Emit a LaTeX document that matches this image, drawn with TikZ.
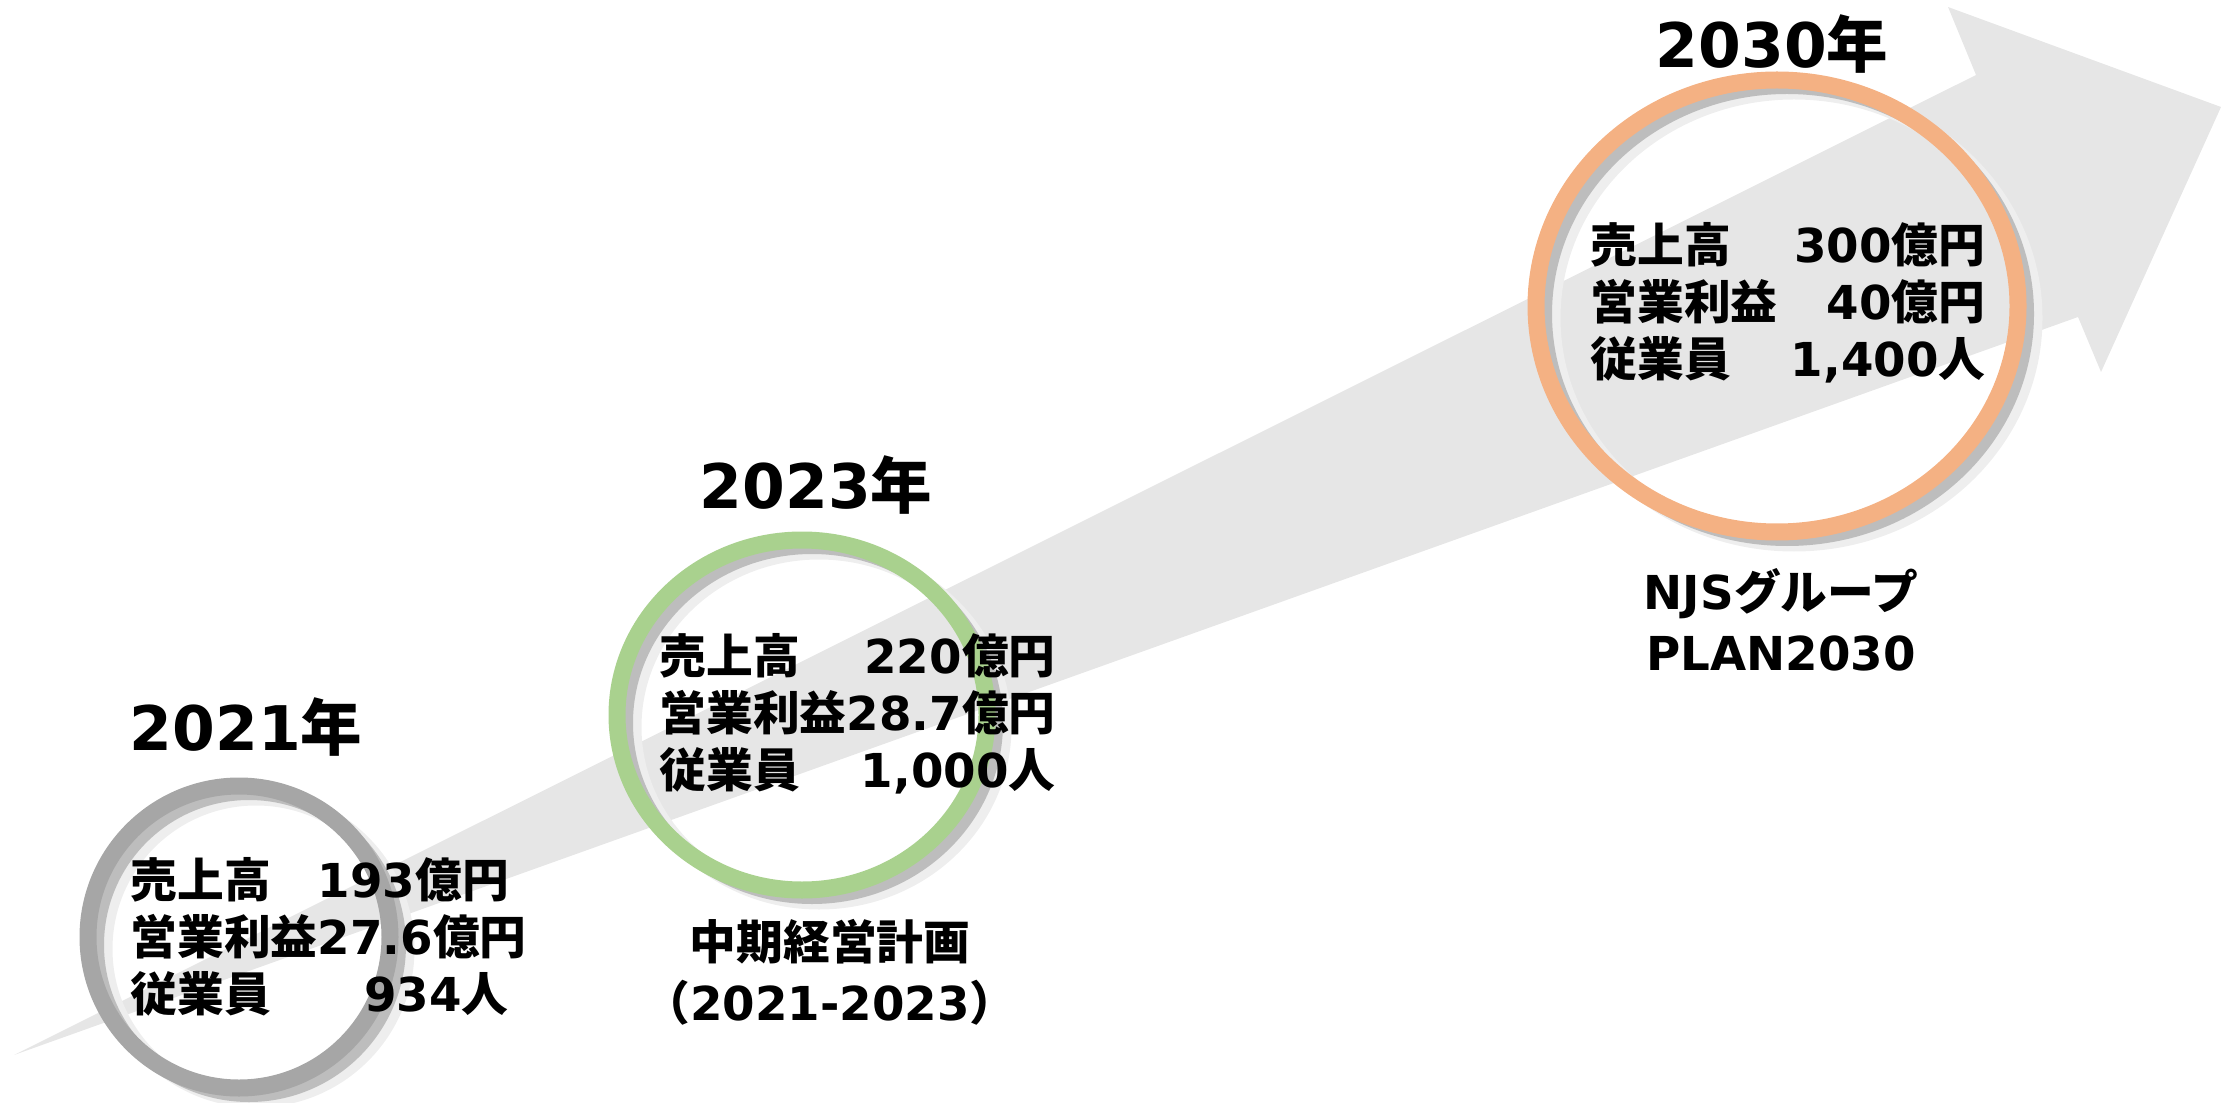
\documentclass[tikz,border=0pt]{standalone}
\usepackage{fontspec}
\setmainfont{DejaVu Sans}
\IfFontExistsTF{Noto Sans CJK JP Bold}
	{\newfontfamily\jp{Noto Sans CJK JP Bold}}
	{\newfontfamily\jp{Noto Sans CJK JP}[FakeBold = 2]}
\usetikzlibrary{positioning}

\definecolor{arrowgray}{HTML}{E6E6E6}
\definecolor{ringgray}{HTML}{A6A6A6}
\definecolor{ringgreen}{HTML}{A9D18E}
\definecolor{ringorange}{HTML}{F4B183}
\definecolor{shadegray}{HTML}{BDBDBD}
\definecolor{halogray}{HTML}{EEEEEE}

\tikzset{
	year/.style = {font = \fontsize{17.5}{21}\selectfont\bfseries, inner sep = 0pt},
	figs/.style = {font = \fontsize{13.3}{16.3}\selectfont\bfseries, inner sep = 0pt, anchor = west},
	plan/.style = {font = \fontsize{13.3}{17.3}\selectfont\bfseries, inner sep = 0pt, align = center}
}

\begin{document}
\begin{tikzpicture}

	\useasboundingbox (0, 0) rectangle (22.29, 11.02);
	
	% The growth arrow
	
	\draw [fill = arrowgray, draw = none] (0.14, 0.47) -- (19.76, 10.27) -- (19.48, 10.95) -- (22.21, 9.95) -- (21.01, 7.30) -- (20.78, 7.85) -- cycle;
	
	% The rings, each with its shadow
	
	\foreach \cx/\cy/\rx/\ry/\col in {2.39/1.65/1.51/1.51/ringgray, 8.02/3.87/1.85/1.75/ringgreen, 17.77/7.96/2.41/2.26/ringorange}
	{
		\draw [halogray, line width = 0.15 cm] (\cx + 0.17, \cy - 0.12) ellipse [x radius = \rx, y radius = \ry];
		\draw [shadegray, line width = 0.12 cm] (\cx + 0.10, \cy - 0.08) ellipse [x radius = \rx, y radius = \ry];
		\draw [\col, line width = 0.17 cm] (\cx, \cy) ellipse [x radius = \rx, y radius = \ry];
	}
	
	% Years
	
	\node [year] (y2021) at (2.46, 3.75) {2021{\jp 年}};
	\node [year] (y2023) at (8.16, 6.17) {2023{\jp 年}};
	\node [year] (y2030) at (17.72, 10.58) {2030{\jp 年}};
	
	% Figures inside the rings
	
	\node [figs] (f2021) at (1.30, 1.59) {\begin{tabular}{@{}l@{}}
		{\jp 売上高　}193{\jp 億円}\\
		{\jp 営業利益}27.6{\jp 億円}\\
		{\jp 従業員　　}934{\jp 人}
	\end{tabular}};
	
	\node [figs] (f2023) at (6.59, 3.83) {\begin{tabular}{@{}l@{}r@{}}
		{\jp 売上高} & 220{\jp 億円}\\
		{\jp 営業利益} & 28.7{\jp 億円}\\
		{\jp 従業員} & 1,000{\jp 人}
	\end{tabular}};
	
	\node [figs] (f2030) at (15.90, 7.94) {\begin{tabular}{@{}l@{\hspace{3.7pt}}r@{}}
		{\jp 売上高} & 300{\jp 億円}\\
		{\jp 営業利益} & 40{\jp 億円}\\
		{\jp 従業員} & 1,400{\jp 人}
	\end{tabular}};
	
	% Plan names
	
	\node [plan] (p2023) at (8.30, 1.30) {{\jp 中期経営計画}\\{\jp （}2021-2023{\jp ）}};
	\node [plan] (p2030) at (17.81, 4.82) {NJS{\jp グループ}\\PLAN2030};

\end{tikzpicture}
\end{document}
